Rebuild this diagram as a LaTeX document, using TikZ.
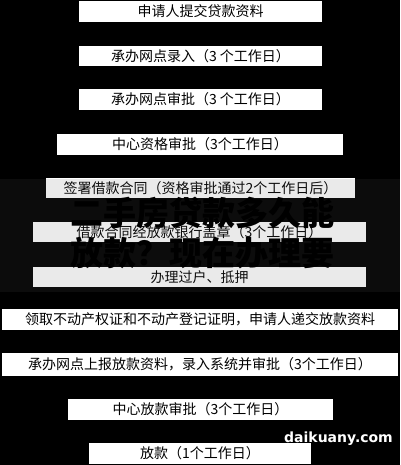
\documentclass[tikz,border=0pt]{standalone}
\usepackage{fontspec}
\setmainfont{Noto Sans CJK SC}
\newfontfamily\cjk{Noto Sans CJK SC}
\newfontfamily\wm{DejaVu Sans}
\definecolor{bandgray}{RGB}{100,100,100}
\begin{document}
\begin{tikzpicture}[x=1pt,y=1pt,
  stepbox/.style={fill=white, inner sep=0pt, text=black,
    font=\cjk\fontsize{14}{16}\selectfont},
  bigtext/.style={text=black, inner sep=0pt,
    font=\cjk\bfseries\fontsize{33}{39}\selectfont},
  mark text/.style={text=white, inner sep=0pt,
    font=\wm\bfseries\fontsize{14}{16}\selectfont}
]
\fill[black] (0,0) rectangle (400,-465);
\useasboundingbox (0,0) rectangle (400,-465);

\node[stepbox, minimum width=243pt, minimum height=21pt] (s1) at (200.5,-11.5) {申请人提交贷款资料};
\node[stepbox, minimum width=243pt, minimum height=20pt] (s2) at (200.5,-56) {承办网点录入（3 个工作日）};
\node[stepbox, minimum width=243pt, minimum height=21pt] (s3) at (200.5,-99.5) {承办网点审批（3 个工作日）};
\node[stepbox, minimum width=286pt, minimum height=21pt] (s4) at (200,-144.5) {中心资格审批（3个工作日）};
\node[stepbox, minimum width=309pt, minimum height=20pt] (s5) at (200.5,-188) {签署借款合同（资格审批通过2个工作日后）};
\node[stepbox, minimum width=333pt, minimum height=20pt] (s6) at (199.5,-232) {借款合同经放款银行盖章（3个工作日）};
\node[stepbox, minimum width=333pt, minimum height=20pt] (s7) at (199.5,-277) {办理过户、抵押};
\node[stepbox, minimum width=396pt, minimum height=21pt] (s8) at (200,-319.5) {领取不动产权证和不动产登记证明，申请人递交放款资料};
\node[stepbox, minimum width=396pt, minimum height=23pt] (s9) at (200,-364.5) {承办网点上报放款资料，录入系统并审批（3个工作日）};
\node[stepbox, minimum width=265pt, minimum height=21pt] (s10) at (200.5,-409.5) {中心放款审批（3个工作日）};
\node[stepbox, minimum width=222pt, minimum height=21pt] (s11) at (200,-453.5) {放款（1个工作日）};

\fill[bandgray, fill opacity=0.13] (0,-179) rectangle (400,-292);

\node[bigtext] (ov1) at (202,-213) {二手房贷款多久能};
\node[bigtext] (ov2) at (202,-253) {放款？现在办理要};

\node[mark text, anchor=base east] (wm) at (393,-442) {daikuany.com};
\end{tikzpicture}
\end{document}
